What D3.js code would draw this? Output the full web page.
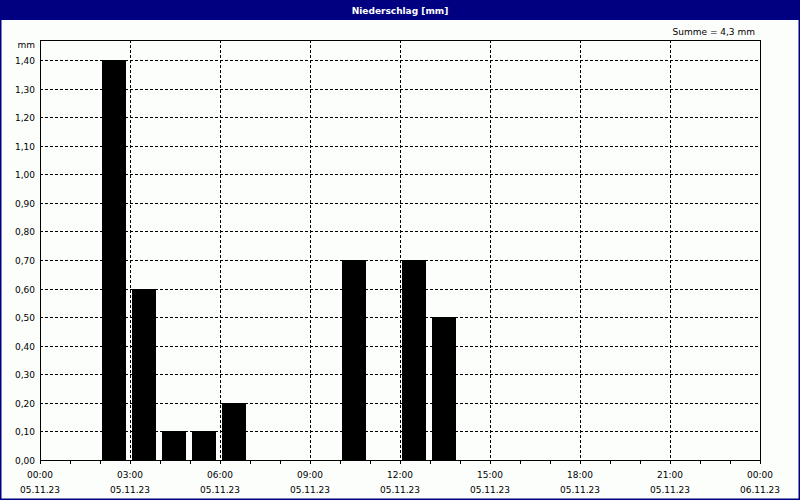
<!DOCTYPE html>
<html><head><meta charset="utf-8">
<script src="https://cdn.jsdelivr.net/npm/d3@7"></script>
<style>body{margin:0;background:#fff}svg{display:block}text{font-family:"DejaVu Sans",sans-serif;font-size:9px;fill:#000}</style>
</head><body><svg id="c" width="800" height="500"></svg>
<script>
const title = "Niederschlag [mm]";
const sumLabel = "Summe = 4,3 mm";
const unitLabel = "mm";
// hourly precipitation: start hour of interval, value (mm)
const barStartHours = [2, 3, 4, 5, 6, 10, 12, 13];
const barValues = [1.4, 0.6, 0.1, 0.1, 0.2, 0.7, 0.7, 0.5];
const yTicks = [0,0.1,0.2,0.3,0.4,0.5,0.6,0.7,0.8,0.9,1.0,1.1,1.2,1.3,1.4];
const xTickHours = [0,3,6,9,12,15,18,21,24];
const xTimeLabels = ["00:00","03:00","06:00","09:00","12:00","15:00","18:00","21:00","00:00"];
const xDateLabels = ["05.11.23","05.11.23","05.11.23","05.11.23","05.11.23","05.11.23","05.11.23","05.11.23","06.11.23"];

const svg = d3.select("#c");
const L=40,R=760,T=40,B=460;
const x = d3.scaleLinear().domain([0,24]).range([L,R]);
const y = d3.scaleLinear().domain([0,1.47]).range([B,T]);
const navy="#000080";

svg.append("rect").attr("width",800).attr("height",500).attr("fill","#fcfefc");
svg.append("rect").attr("x",0).attr("y",0).attr("width",800).attr("height",20).attr("fill",navy);
svg.append("rect").attr("x",0.5).attr("y",0.5).attr("width",799).attr("height",499).attr("fill","none").attr("stroke",navy).attr("stroke-width",2);
svg.append("text").attr("x",400).attr("y",14).attr("text-anchor","middle").style("fill","#fff").style("font-weight","bold").text(title);
svg.append("text").attr("x",755).attr("y",35).attr("text-anchor","end").text(sumLabel);
svg.append("text").attr("x",35).attr("y",48).attr("text-anchor","end").text(unitLabel);

const g = svg.append("g");
// horizontal grid
g.selectAll("line.hg").data(yTicks.filter(d=>d>0)).join("line")
 .attr("x1",L).attr("x2",R).attr("y1",d=>Math.round(y(d))+0.5).attr("y2",d=>Math.round(y(d))+0.5)
 .attr("stroke","#000").attr("stroke-dasharray","3,2").attr("shape-rendering","crispEdges");
// vertical grid
g.selectAll("line.vg").data(xTickHours.slice(1,-1)).join("line")
 .attr("x1",d=>x(d)+0.5).attr("x2",d=>x(d)+0.5).attr("y1",T).attr("y2",B)
 .attr("stroke","#000").attr("stroke-dasharray","3,2").attr("shape-rendering","crispEdges");

// bars
const bw = x(1)-x(0);
g.selectAll("rect.bar").data(barStartHours.map((h,i)=>({h,v:barValues[i]}))).join("rect")
 .attr("x",d=>x(d.h)+2).attr("width",bw-6)
 .attr("y",d=>Math.round(y(d.v))).attr("height",d=>B-Math.round(y(d.v)))
 .attr("fill","#000").attr("shape-rendering","crispEdges");

// frame
svg.append("rect").attr("x",L+0.5).attr("y",T+0.5).attr("width",R-L).attr("height",B-T)
 .attr("fill","none").attr("stroke","#000").attr("shape-rendering","crispEdges");

// y axis labels
const fmt = d=>d3.format(".2f")(d).replace(".",",");
svg.selectAll("text.yl").data(yTicks).join("text")
 .attr("x",35).attr("y",d=>Math.round(y(d))+4).attr("text-anchor","end").text(fmt);

// x axis ticks (hourly)
svg.selectAll("line.xt").data(d3.range(0,25)).join("line")
 .attr("x1",d=>x(d)+0.5).attr("x2",d=>x(d)+0.5).attr("y1",B).attr("y2",B+4)
 .attr("stroke","#000").attr("shape-rendering","crispEdges");
svg.selectAll("text.xl").data(xTickHours).join("text")
 .attr("x",d=>x(d)).attr("y",478).attr("text-anchor","middle").text((d,i)=>xTimeLabels[i]);
svg.selectAll("text.xd").data(xTickHours).join("text")
 .attr("x",d=>x(d)).attr("y",493).attr("text-anchor","middle").text((d,i)=>xDateLabels[i]);
</script></body></html>
